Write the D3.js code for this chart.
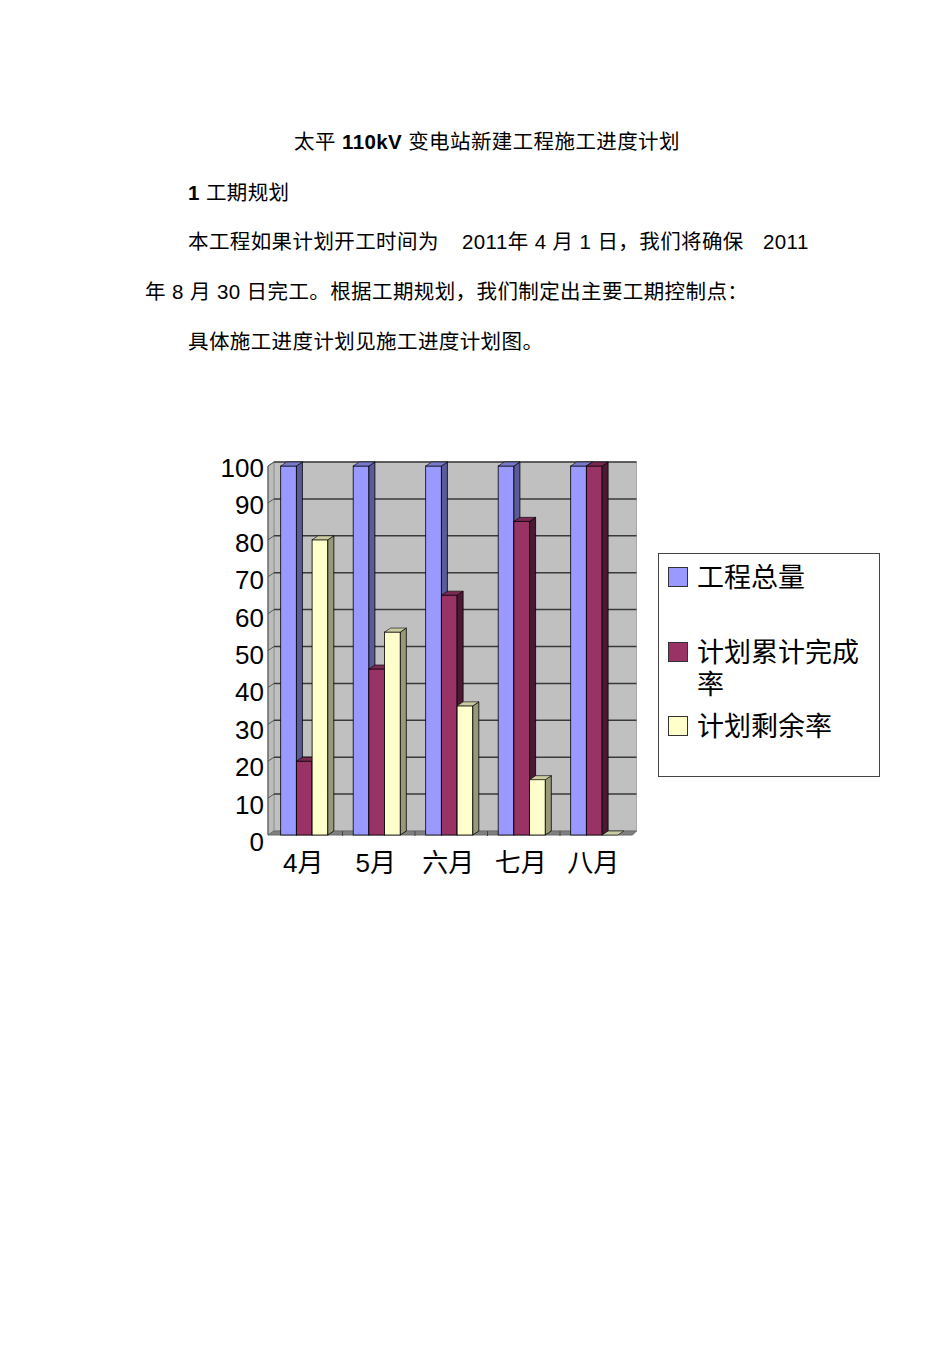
<!DOCTYPE html>
<html>
<head>
  <meta charset="utf-8">
  <title>太平110kV变电站新建工程施工进度计划</title>
  <script src="https://d3js.org/d3.v7.min.js"></script>
  <style>
    body { margin: 0; background: #fff; }
    svg text { font-family: "Liberation Sans", Arial, "Noto Sans CJK SC", sans-serif; fill: #000; }
  </style>
</head>
<body>
  <svg width="950" height="1345"></svg>

  <script>
    // Chart data
    const months = ["4月", "5月", "六月", "七月", "八月"];
    const series = ["工程总量", "计划累计完成率", "计划剩余率"];
    const totalValues = [100, 100, 100, 100, 100];
    const doneValues = [20, 45, 65, 85, 100];
    const leftValues = [80, 55, 35, 15, 0];
    const yTicks = [0, 10, 20, 30, 40, 50, 60, 70, 80, 90, 100];

    const seriesValues = [totalValues, doneValues, leftValues];
    // front / side / top colours for each series
    const colors = [
      { front: "#9999ff", side: "#5b5b99", top: "#7a7acc" },
      { front: "#993366", side: "#4c1933", top: "#7a2952" },
      { front: "#ffffcc", side: "#99997a", top: "#cccca3" }
    ];

    const svg = d3.select("svg");

    // ---- document text ----
    const title = svg.append("text")
      .attr("x", 487).attr("y", 149)
      .attr("text-anchor", "middle")
      .style("font-size", "20.5px")
      .style("letter-spacing", "0.4px");
    title.append("tspan").text("太平 ");
    title.append("tspan").style("font-weight", "bold").text("110kV");
    title.append("tspan").text(" 变电站新建工程施工进度计划");

    const h1 = svg.append("text").attr("x", 188).attr("y", 200)
      .style("font-size", "20.5px").style("letter-spacing", "0.4px");
    h1.append("tspan").style("font-weight", "bold").text("1 ");
    h1.append("tspan").text("工期规划");

    const bodyLines = [
      { x: 188, y: 249, t: "本工程如果计划开工时间为" },
      { x: 462, y: 249, t: "2011年 4 月 1 日，我们将确保" },
      { x: 763, y: 249, t: "2011" },
      { x: 145, y: 299, t: "年 8 月 30 日完工。根据工期规划，我们制定出主要工期控制点：" },
      { x: 188, y: 349, t: "具体施工进度计划见施工进度计划图。" }
    ];
    svg.selectAll("text.body")
      .data(bodyLines)
      .enter().append("text")
      .attr("class", "body")
      .attr("x", d => d.x).attr("y", d => d.y)
      .style("font-size", "20.5px")
      .style("letter-spacing", "0.4px")
      .text(d => d.t);

    // ---- chart ----
    const left = 268, right = 630.5;
    const dx = 6, dy = 4;

    const y = d3.scaleLinear().domain([0, 100]).range([835, 466]);
    const yLab = d3.scaleLinear().domain([0, 100]).range([842, 468]);
    const x0 = d3.scaleBand().domain(months).range([left, right])
      .paddingInner(0.35).paddingOuter(0.175);
    const x1 = d3.scaleBand().domain(series).range([0, x0.bandwidth()]);

    const chart = svg.append("g");
    const y0 = y(0), yTop = y(100);

    // back wall
    chart.append("rect")
      .attr("x", left + dx).attr("y", yTop - dy)
      .attr("width", right - left).attr("height", y0 - yTop)
      .attr("fill", "#c0c0c0").attr("stroke", "#a8a8a8");
    // left wall
    chart.append("polygon")
      .attr("points", [[left, yTop], [left + dx, yTop - dy], [left + dx, y0 - dy], [left, y0]].join(" "))
      .attr("fill", "#bcbcbc").attr("stroke", "#909090");
    // floor
    chart.append("polygon")
      .attr("points", [[left, y0], [left + dx, y0 - dy], [right + dx, y0 - dy], [right + 2, y0]].join(" "))
      .attr("fill", "#808080").attr("stroke", "#6a6a6a");

    // gridlines on back wall + short diagonal ticks on left wall
    chart.selectAll("line.grid")
      .data(yTicks.slice(1))
      .enter().append("line")
      .attr("class", "grid")
      .attr("x1", left + dx).attr("x2", right + dx)
      .attr("y1", d => y(d) - dy).attr("y2", d => y(d) - dy)
      .attr("stroke", "#3a3a3a").attr("stroke-width", 1.5);
    chart.selectAll("line.wall")
      .data(yTicks.slice(1))
      .enter().append("line")
      .attr("class", "wall")
      .attr("x1", left).attr("x2", left + dx)
      .attr("y1", d => y(d)).attr("y2", d => y(d) - dy)
      .attr("stroke", "#555").attr("stroke-width", 1);

    // category ticks on floor
    chart.selectAll("line.ctick")
      .data(months.slice(1))
      .enter().append("line")
      .attr("class", "ctick")
      .attr("x1", d => x0(d) - x0.step() * x0.paddingInner() / 2 + 2)
      .attr("x2", d => x0(d) - x0.step() * x0.paddingInner() / 2 + 2)
      .attr("y1", y0 - dy).attr("y2", y0 + 1)
      .attr("stroke", "#444");

    // axis line
    chart.append("line")
      .attr("x1", left).attr("x2", left)
      .attr("y1", yTop).attr("y2", y0)
      .attr("stroke", "#555").attr("stroke-width", 1);

    // bars
    const bars = [];
    months.forEach((m, i) => {
      series.forEach((s, j) => {
        bars.push({ m, s, j, v: seriesValues[j][i] });
      });
    });

    const barG = chart.selectAll("g.bar")
      .data(bars)
      .enter().append("g")
      .attr("class", "bar");

    barG.each(function(d) {
      const g = d3.select(this);
      const bx = x0(d.m) + x1(d.s);
      const bw = x1.bandwidth();
      const by = y(d.v);
      const c = colors[d.j];
      if (d.v > 0) {
        g.append("rect")
          .attr("x", bx).attr("y", by)
          .attr("width", bw).attr("height", y0 - by)
          .attr("fill", c.front).attr("stroke", "#000").attr("stroke-width", 0.8);
        g.append("polygon")
          .attr("points", [[bx + bw, by], [bx + bw + dx, by - dy], [bx + bw + dx, y0 - dy], [bx + bw, y0]].join(" "))
          .attr("fill", c.side).attr("stroke", "#000").attr("stroke-width", 0.8);
      }
      g.append("polygon")
        .attr("points", [[bx, by], [bx + dx, by - dy], [bx + bw + dx, by - dy], [bx + bw, by]].join(" "))
        .attr("fill", c.top).attr("stroke", "#000").attr("stroke-width", 0.6);
    });

    // y labels
    chart.selectAll("text.ylab")
      .data(yTicks)
      .enter().append("text")
      .attr("class", "ylab")
      .attr("x", 264).attr("y", d => yLab(d) + 9)
      .attr("text-anchor", "end")
      .style("font-size", "26px")
      .text(d => d);

    // x labels
    chart.selectAll("text.xlab")
      .data(months)
      .enter().append("text")
      .attr("class", "xlab")
      .attr("x", d => x0(d) + x0.bandwidth() / 2 - 1)
      .attr("y", 872)
      .attr("text-anchor", "middle")
      .style("font-size", "26px")
      .text(d => d);

    // legend
    const legend = svg.append("g");
    legend.append("rect")
      .attr("x", 658.5).attr("y", 553.5)
      .attr("width", 221).attr("height", 223)
      .attr("fill", "#fff").attr("stroke", "#444");

    const legendItems = [
      { lines: ["工程总量"], y: 578 },
      { lines: ["计划累计完成", "率"], y: 653 },
      { lines: ["计划剩余率"], y: 727 }
    ];
    legendItems.forEach((item, j) => {
      legend.append("rect")
        .attr("x", 668.5).attr("y", item.y - 10.5)
        .attr("width", 19).attr("height", 19)
        .attr("fill", colors[j].front).attr("stroke", "#333");
      const t = legend.append("text")
        .attr("x", 697).attr("y", item.y + 9)
        .style("font-size", "27px");
      item.lines.forEach((ln, k) => {
        t.append("tspan").attr("x", 697).attr("dy", k === 0 ? 0 : 32).text(ln);
      });
    });
  </script>
</body>
</html>
